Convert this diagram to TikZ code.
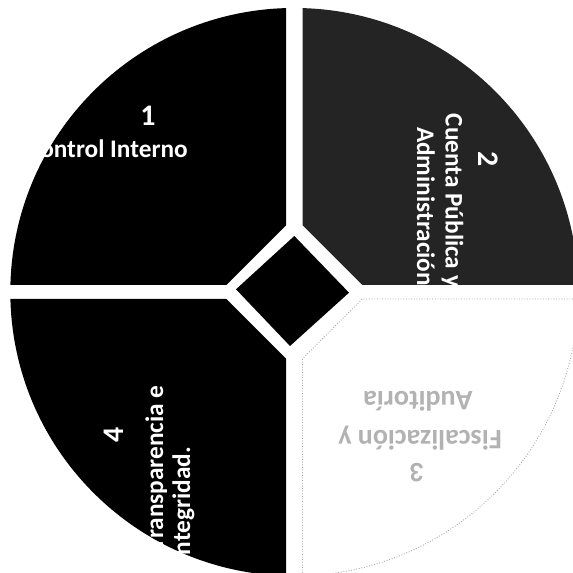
\documentclass[tikz,border=0pt]{standalone}
\usepackage{fontspec}
\setmainfont{Carlito}
\usepackage{xcolor}
\usepackage{tikz}
\usetikzlibrary{positioning}

\begin{document}
\begin{tikzpicture}[
    x=0.02cm, y=0.02cm,
    darkquad/.style={fill=black},
    greyquad/.style={fill=black!86},
    palequad/.style={fill=white, draw=black!35, densely dotted, line width=0.5pt},
    hub/.style={fill=black},
    num/.style={font=\fontsize{17}{20}\selectfont\bfseries, text=white, inner sep=0pt},
    lbl/.style={font=\fontsize{14.4}{17}\selectfont\bfseries, text=white, inner sep=0pt},
    ghost/.style={text=black!30, font=\fontsize{16}{19}\selectfont\bfseries}
]
    \useasboundingbox (0,0) rectangle (573,573);
    \clip (0,0) rectangle (573,573);
    \fill[white] (0,0) rectangle (573,573);

    % four quarters round the centre, with white gaps
    \begin{scope}[shift={(294.3,281)}]
        \fill[darkquad] (-8.2,283.9) -- (-8.2,66.8) -- (-68,7) -- (-283.9,7)
            arc[start angle=178.59, end angle=91.65, radius=284] -- cycle;
        \fill[greyquad] (8.2,283.9) -- (8.2,66.8) -- (68,7) -- (283.9,7)
            arc[start angle=1.41, end angle=88.35, radius=284] -- cycle;
        \filldraw[palequad] (8.2,-283.9) -- (8.2,-66.8) -- (68,-7) -- (283.9,-7)
            arc[start angle=-1.41, end angle=-88.35, radius=284] -- cycle;
        \fill[darkquad] (-8.2,-283.9) -- (-8.2,-66.8) -- (-68,-7) -- (-283.9,-7)
            arc[start angle=181.41, end angle=268.35, radius=284] -- cycle;
    \end{scope}

    % centre diamond
    \fill[hub] (294.3,337) -- (236,283.7) -- (290,227) -- (349,280.3) -- cycle;

    % labels
    \node[num, anchor=base] (n1) at (148,447) {1};
    \node[lbl, anchor=base east] (t1) at (188,415.3) {Control Interno};

    \node[num, rotate=-90, anchor=base] (n2) at (478,414) {2};
    \node[lbl, rotate=-90, anchor=base west] (t2a) at (445.7,459.7) {Cuenta Pública y};
    \node[lbl, rotate=-90, anchor=base west] (t2b) at (417,446.3) {Administración};

    \node[num, ghost, rotate=180] (n3) at (417,100) {3};
    \node[lbl, ghost, rotate=180] (t3a) at (420,135) {Fiscalización y};
    \node[lbl, ghost, rotate=180] (t3b) at (418,172) {Auditoría};

    \node[num, rotate=90, anchor=base] (n4) at (123,138) {4};
    \node[lbl, rotate=90, anchor=base east] (t4a) at (163,188) {Transparencia e};
    \node[lbl, rotate=90, anchor=base east] (t4b) at (190,126.3) {Integridad.};
\end{tikzpicture}
\end{document}
